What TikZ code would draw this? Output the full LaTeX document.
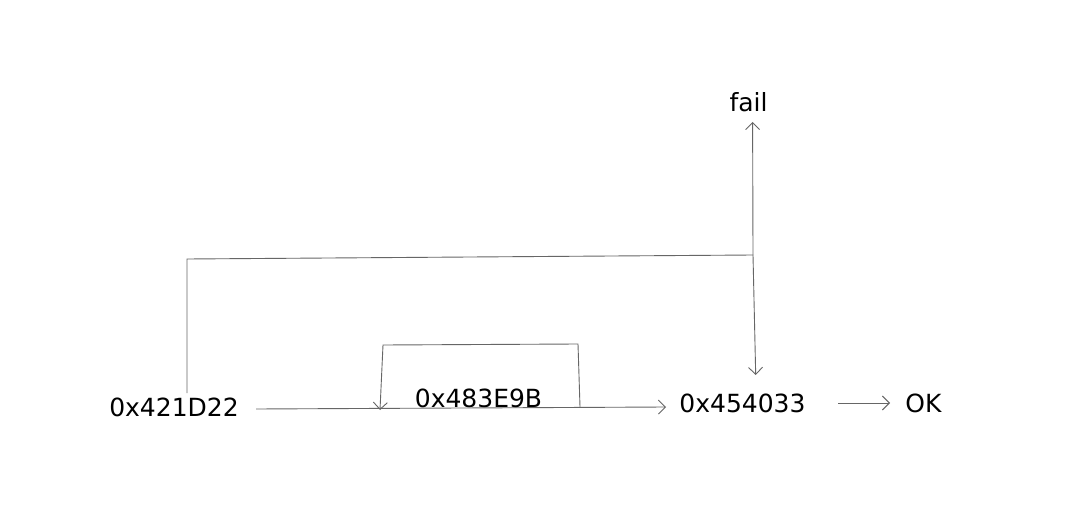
\documentclass[tikz,border=0pt]{standalone}
\usepackage{fontspec}
\setmainfont{DejaVu Sans}
\usetikzlibrary{arrows.meta}
\begin{document}
\begin{tikzpicture}[x=1pt,y=-1pt,
  lbl/.style={inner sep=0pt,anchor=base,font=\fontsize{25}{30}\selectfont},
  ln/.style={draw=black!60,line width=0.9pt},
  arr/.style={ln,-{Straight Barb[length=7pt,width=14pt,line width=0.9pt]}}]
\useasboundingbox[fill=white] (0,0) rectangle (1082,516);
% labels
\node[lbl] (a) at (174,416) {0x421D22};
\node[lbl] (b) at (478.5,407) {0x483E9B};
\node[lbl] (c) at (742.5,412) {0x454033};
\node[lbl] (ok) at (923.5,412) {OK};
\node[lbl] (fail) at (748.5,112) {fail};
% junction and corner points
\coordinate (aTop) at (187,393);
\coordinate (aCorner) at (187,259);
\coordinate (j) at (753,255);
\coordinate (failEnd) at (752.6,122);
\coordinate (cEnd) at (755.7,375);
\coordinate (mStart) at (256,409);
\coordinate (mEnd) at (666,407);
\coordinate (lRise) at (580,407);
\coordinate (lTR) at (578,344);
\coordinate (lTL) at (383,345);
\coordinate (lEnd) at (380,410);
\coordinate (okStart) at (838,403);
\coordinate (okEnd) at (890,403);
% connectors
\draw[ln] (aTop) -- (aCorner) -- (j);
\draw[arr] (j) -- (failEnd);
\draw[arr] (j) -- (cEnd);
\draw[arr] (mStart) -- (mEnd);
\draw[arr] (lRise) -- (lTR) -- (lTL) -- (lEnd);
\draw[arr] (okStart) -- (okEnd);
\end{tikzpicture}
\end{document}
